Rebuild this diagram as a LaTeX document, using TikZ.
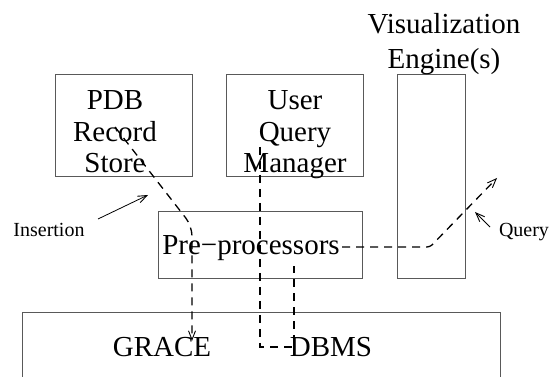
\documentclass[tikz,border=0pt]{standalone}
\usepackage{fontspec}
\setmainfont{Liberation Serif}
\usetikzlibrary{arrows.meta}
\tikzset{
  box/.style={draw=black!65,line width=1pt,inner sep=0pt},
  flow/.style={draw=black,line width=1.3pt,dash pattern=on 8pt off 6pt},
  tip/.style={-{Straight Barb[length=9pt,width=7pt,line width=0.9pt]}},
  big/.style={font=\fontsize{29}{31.5}\selectfont,inner sep=0pt,align=center},
  small/.style={font=\fontsize{20}{24}\selectfont,inner sep=0pt}
}

\begin{document}
\begin{tikzpicture}[x=1pt,y=-1pt]
    \useasboundingbox (0,0) rectangle (550,377);
    \clip (0,0) rectangle (550,377);
    % boxes
    \node[box,minimum width=137pt,minimum height=102pt] (pdb) at (123.5,126) {};
    \node[box,minimum width=137pt,minimum height=102pt] (uqm) at (294.5,126) {};
    \node[box,minimum width=68pt,minimum height=204pt] (vis) at (431,177) {};
    \node[box,minimum width=204pt,minimum height=67pt] (pre) at (260,245.5) {};
    \node[box,minimum width=478pt,minimum height=87pt] (db) at (261,356.5) {};
    % labels
    \node[big] (pdbtxt) at (115,131.7) {PDB\\Record\\Store};
    \node[big] (uqmtxt) at (295,135) {User\\Query\\Manager};
    \node[big,font=\fontsize{29}{35}\selectfont] (vistxt) at (444,43.8) {Visualization\\Engine(s)};
    \node[big,anchor=base] (pretxt) at (251,255) {Pre−processors};
    \node[big,anchor=base] (grace) at (162,357) {GRACE};
    \node[big,anchor=base] (dbms) at (331,357) {DBMS};
    \node[small,anchor=base] (ins) at (49,237) {Insertion};
    \node[small,anchor=base] (qry) at (524,237) {Query};
    % flow ends
    \coordinate (storeout) at (115,127);
    \coordinate (gracein) at (192,341);
    \coordinate (uqmout) at (260,147);
    \coordinate (dbmsin) at (294,266);
    \coordinate (preout) at (342,247);
    \coordinate (visout) at (497,178);
    \coordinate (insstart) at (98,219);
    \coordinate (insend) at (148,195);
    \coordinate (qrystart) at (490,227);
    \coordinate (qryend) at (475,212);
    % dashed flows
    \draw [flow,tip,rounded corners=10pt] (storeout) -- (192,226) -- (gracein);
    \draw [flow] (uqmout) -- (260,347) -- (294,347) -- (dbmsin);
    \draw [flow,tip,rounded corners=3pt] (preout) -- (430,247) -- (visout);
    % pointers
    \draw [tip,line width=0.8pt] (insstart) -- (insend);
    \draw [tip,line width=0.8pt] (qrystart) -- (qryend);
\end{tikzpicture}
\end{document}
